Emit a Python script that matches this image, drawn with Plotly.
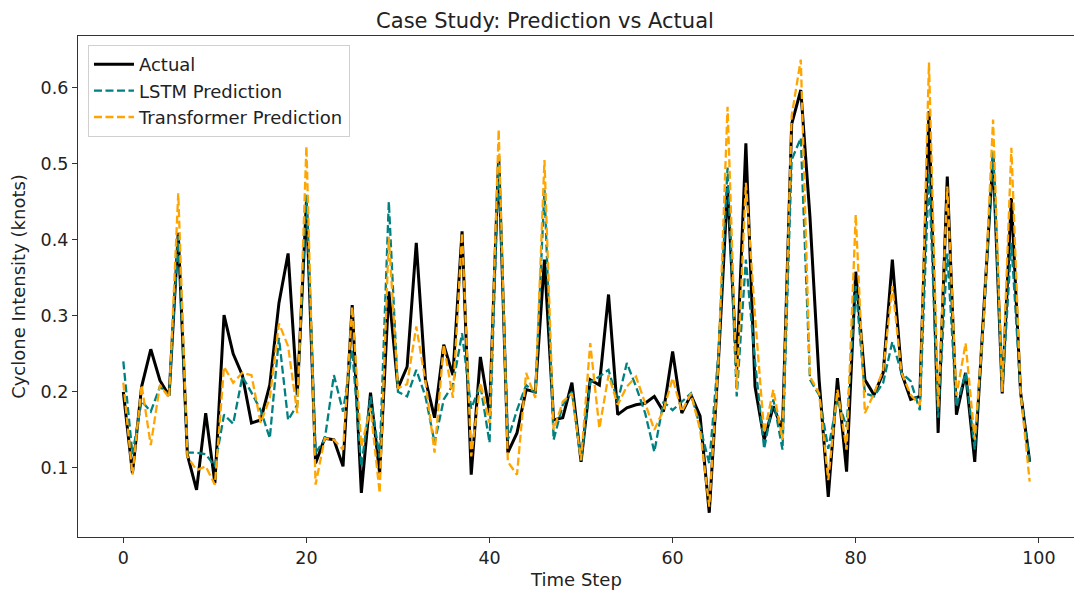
import plotly.graph_objects as go

time_steps = list(range(100))

actual = [
    0.200, 0.093, 0.207, 0.256, 0.215, 0.195, 0.409, 0.117, 0.071, 0.172,
    0.080, 0.301, 0.250, 0.222, 0.159, 0.163, 0.209, 0.317, 0.382, 0.196,
    0.450, 0.106, 0.139, 0.137, 0.102, 0.314, 0.067, 0.199, 0.093, 0.332,
    0.205, 0.233, 0.396, 0.216, 0.166, 0.262, 0.222, 0.411, 0.091, 0.246,
    0.172, 0.510, 0.120, 0.146, 0.203, 0.200, 0.374, 0.163, 0.166, 0.212,
    0.108, 0.216, 0.209, 0.328, 0.170, 0.179, 0.183, 0.185, 0.194, 0.174,
    0.253, 0.172, 0.196, 0.168, 0.041, 0.240, 0.470, 0.229, 0.527, 0.207,
    0.137, 0.181, 0.150, 0.552, 0.597, 0.430, 0.216, 0.062, 0.218, 0.095,
    0.358, 0.216, 0.196, 0.225, 0.374, 0.225, 0.190, 0.194, 0.569, 0.146,
    0.483, 0.170, 0.225, 0.108, 0.310, 0.510, 0.198, 0.455, 0.200, 0.108,
]

lstm_pred = [
    0.240, 0.118, 0.188, 0.174, 0.207, 0.196, 0.405, 0.120, 0.120, 0.118,
    0.102, 0.170, 0.158, 0.220, 0.199, 0.176, 0.139, 0.271, 0.163, 0.183,
    0.459, 0.120, 0.137, 0.222, 0.174, 0.255, 0.102, 0.194, 0.113, 0.450,
    0.200, 0.194, 0.229, 0.194, 0.133, 0.190, 0.209, 0.277, 0.178, 0.209,
    0.133, 0.501, 0.137, 0.176, 0.209, 0.198, 0.466, 0.137, 0.183, 0.200,
    0.110, 0.213, 0.220, 0.229, 0.187, 0.238, 0.207, 0.172, 0.121, 0.187,
    0.176, 0.187, 0.198, 0.154, 0.106, 0.250, 0.495, 0.194, 0.374, 0.240,
    0.125, 0.190, 0.124, 0.505, 0.534, 0.216, 0.196, 0.125, 0.190, 0.154,
    0.339, 0.198, 0.194, 0.212, 0.266, 0.225, 0.214, 0.176, 0.488, 0.166,
    0.382, 0.180, 0.225, 0.124, 0.300, 0.516, 0.200, 0.396, 0.200, 0.108,
]

transformer_pred = [
    0.212, 0.091, 0.209, 0.130, 0.209, 0.192, 0.461, 0.115, 0.097, 0.102,
    0.078, 0.233, 0.212, 0.225, 0.222, 0.159, 0.192, 0.290, 0.260, 0.172,
    0.523, 0.078, 0.139, 0.137, 0.124, 0.312, 0.128, 0.179, 0.067, 0.404,
    0.205, 0.210, 0.286, 0.214, 0.120, 0.262, 0.192, 0.409, 0.115, 0.212,
    0.159, 0.545, 0.108, 0.091, 0.225, 0.192, 0.505, 0.150, 0.187, 0.198,
    0.110, 0.264, 0.152, 0.222, 0.183, 0.207, 0.220, 0.185, 0.150, 0.176,
    0.218, 0.174, 0.198, 0.150, 0.049, 0.240, 0.575, 0.203, 0.475, 0.300,
    0.146, 0.203, 0.137, 0.563, 0.637, 0.220, 0.198, 0.084, 0.203, 0.124,
    0.433, 0.172, 0.198, 0.229, 0.339, 0.225, 0.196, 0.183, 0.633, 0.180,
    0.470, 0.195, 0.264, 0.137, 0.300, 0.558, 0.200, 0.521, 0.200, 0.082,
]

x_ticks = [0, 20, 40, 60, 80, 100]
y_ticks = [0.1, 0.2, 0.3, 0.4, 0.5, 0.6]

FONT = "DejaVu Sans, Verdana, sans-serif"

fig = go.Figure()
fig.add_trace(go.Scatter(x=time_steps, y=actual, mode="lines", name="Actual",
                         line=dict(color="black", width=3)))
fig.add_trace(go.Scatter(x=time_steps, y=lstm_pred, mode="lines", name="LSTM Prediction",
                         line=dict(color="#008080", width=2.3, dash="8px,3.5px")))
fig.add_trace(go.Scatter(x=time_steps, y=transformer_pred, mode="lines", name="Transformer Prediction",
                         line=dict(color="#FFA500", width=2.3, dash="8px,3.5px")))

axis_common = dict(showgrid=False, zeroline=False, showline=True, linecolor="#333333",
                   linewidth=1.3, mirror=True, ticks="outside", ticklen=5, tickwidth=1.2,
                   tickcolor="#333333", automargin=False,
                   tickfont=dict(size=17.5, color="#222222", family=FONT))

# The page body adds an 8px offset, so margins are shifted accordingly.
fig.update_layout(
    width=1082, height=596,
    paper_bgcolor="white", plot_bgcolor="white",
    margin=dict(l=70, r=15, t=28, b=67),
    font=dict(family=FONT, color="#222222"),
    title=dict(text="Case Study: Prediction vs Actual", x=0.5 - 4 / 1082, xanchor="center",
               y=1 - 12.5 / 596, yanchor="middle", font=dict(size=21, family=FONT, color="#222222")),
    xaxis=dict(range=[-4.95, 103.95], tickvals=x_ticks,
               title=dict(text="Time Step", font=dict(size=18, family=FONT), standoff=6),
               **axis_common),
    yaxis=dict(range=[0.0091, 0.668], tickvals=y_ticks, tickformat=".1f",
               title=dict(text="Cyclone Intensity (knots)", font=dict(size=18, family=FONT), standoff=10),
               **axis_common),
    legend=dict(x=0.01, y=0.982, xanchor="left", yanchor="top",
                bgcolor="rgba(255,255,255,0.85)", bordercolor="#d0d0d0", borderwidth=1,
                font=dict(size=18, family=FONT, color="#222222"), tracegroupgap=0,
                itemwidth=40),
    showlegend=True,
)

fig.write_html("out.html")
